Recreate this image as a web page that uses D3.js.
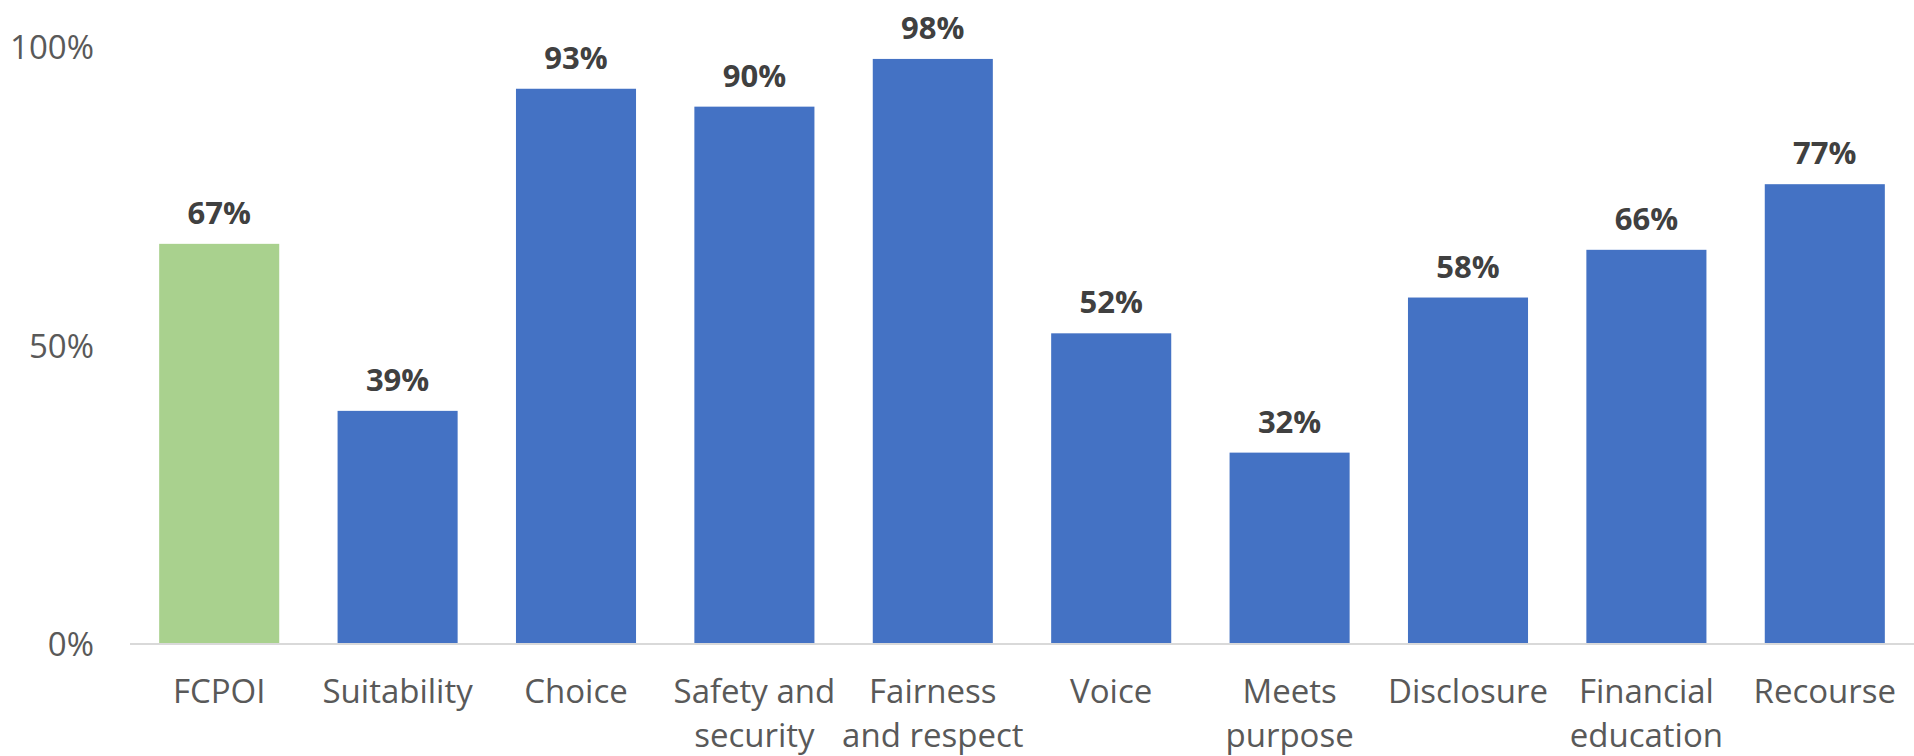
<!DOCTYPE html>
<html>
<head>
<meta charset="utf-8">
<script src="https://cdn.jsdelivr.net/npm/d3@7"></script>
<style>
  html, body { margin: 0; padding: 0; background: #fff; }
  svg { display: block; }
  text { font-family: "Open Sans", "Noto Sans", sans-serif; }
</style>
</head>
<body>
<svg id="chart" width="1914" height="756"></svg>
<script>
// Share of indicators met, by principle
const categories = ["FCPOI", "Suitability", "Choice", "Safety and security", "Fairness and respect",
                    "Voice", "Meets purpose", "Disclosure", "Financial education", "Recourse"];
const values = [67, 39, 93, 90, 98, 52, 32, 58, 66, 77];
const yTicks = [0, 50, 100];
const highlighted = ["FCPOI"];

const W = 1914, H = 756;
const margin = { left: 130, right: 0, top: 47, bottom: 112 };

const svg = d3.select("#chart");

const x = d3.scaleBand()
  .domain(categories)
  .range([margin.left, W - margin.right])
  .paddingInner(0.327)
  .paddingOuter(0.1635);

const y = d3.scaleLinear()
  .domain([0, 100])
  .range([H - margin.bottom - 0.5, margin.top]);

// y axis labels (no line, no ticks)
const yAxis = d3.axisLeft(y)
  .tickValues(yTicks)
  .tickFormat(d => d + "%")
  .tickSize(0)
  .tickPadding(0);

const gy = svg.append("g")
  .attr("transform", `translate(94,0)`)
  .call(yAxis);
gy.select(".domain").remove();
gy.selectAll("text")
  .attr("fill", "#595959")
  .attr("font-size", 33)
  .attr("dy", "0.36em")
  .style("font-family", '"Open Sans", "Noto Sans", sans-serif');

// bars
svg.append("g")
  .selectAll("rect")
  .data(categories.map((c, i) => ({ c, v: values[i] })))
  .join("rect")
  .attr("x", d => x(d.c))
  .attr("width", x.bandwidth())
  .attr("y", d => y(d.v))
  .attr("height", d => y(0) - y(d.v))
  .attr("fill", d => highlighted.includes(d.c) ? "#A9D18E" : "#4472C4");

// baseline
const xAxis = d3.axisBottom(x).tickSize(0).tickPadding(0).tickFormat("");
const gx = svg.append("g")
  .attr("transform", `translate(0,${y(0) + 0.5})`)
  .call(xAxis);
gx.select(".domain")
  .attr("stroke", "#D9D9D9")
  .attr("stroke-width", 2)
  .attr("d", `M${margin.left},0H${W}`);

// value labels
svg.append("g")
  .selectAll("text")
  .data(categories.map((c, i) => ({ c, v: values[i] })))
  .join("text")
  .attr("x", d => x(d.c) + x.bandwidth() / 2)
  .attr("y", d => y(d.v) - 20)
  .attr("text-anchor", "middle")
  .attr("font-size", 31)
  .attr("font-weight", 700)
  .attr("fill", "#404040")
  .text(d => d.v + "%");

// category labels, wrapped to roughly the band step
const maxW = x.step() * 1.05;
const catG = svg.append("g");
categories.forEach(c => {
  const cx = x(c) + x.bandwidth() / 2;
  const t = catG.append("text")
    .attr("x", cx)
    .attr("y", 703)
    .attr("text-anchor", "middle")
    .attr("font-size", 33)
    .attr("fill", "#595959");
  const words = c.split(" ");
  let line = [];
  let tspan = t.append("tspan").attr("x", cx).attr("dy", 0);
  words.forEach(w => {
    line.push(w);
    tspan.text(line.join(" "));
    if (tspan.node().getComputedTextLength() > maxW && line.length > 1) {
      line.pop();
      tspan.text(line.join(" "));
      line = [w];
      tspan = t.append("tspan")
        .attr("x", cx)
        .attr("dy", 44)
        .text(w);
    }
  });
});
</script>
</body>
</html>
